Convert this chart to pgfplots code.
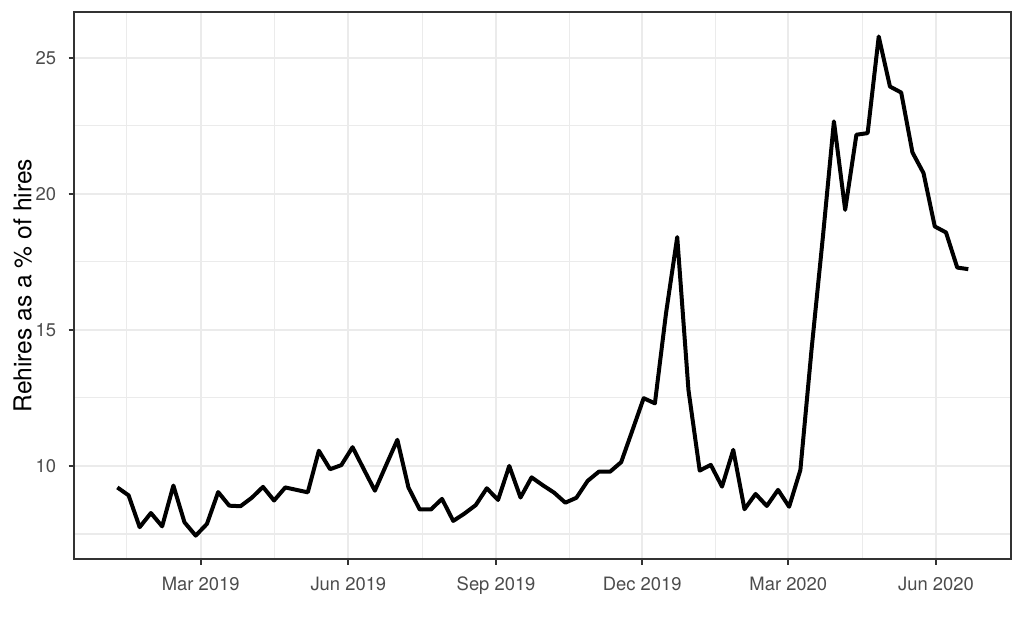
\documentclass[border=0pt]{standalone}
\usepackage{fontspec}
\setmainfont{TeX Gyre Heros}
\usepackage{pgfplots}
\pgfplotsset{compat=1.18}
\definecolor{grey92}{gray}{0.92}
\definecolor{grey20}{gray}{0.2}
\definecolor{grey30}{gray}{0.3}

\begin{document}
\begin{tikzpicture}
\path[use as bounding box] (0,0) rectangle (512pt,315.5pt);
\begin{axis}[
  at={(37pt,35.85pt)}, anchor=south west,
  scale only axis, width=468.35pt, height=273.65pt,
  xmin=-19.9, xmax=563.5, ymin=6.57, ymax=26.68,
  % x is days since 1 Jan 2019
  xtick={59,151,243,334,425,517},
  xticklabels={Mar 2019,Jun 2019,Sep 2019,Dec 2019,Mar 2020,Jun 2020},
  minor xtick={13,105,197,288.5,379.5,471},
  ytick={10,15,20,25},
  minor ytick={7.5,12.5,17.5,22.5},
  grid=both,
  major grid style={grey92, line width=1.07pt},
  minor grid style={grey92, line width=0.53pt},
  tick pos=left,
  tick align=outside, major tick length=2.75pt, minor tick length=0pt,
  tick style={grey20, line width=1.07pt},
  axis line style={grey20, line width=1.07pt},
  ticklabel style={font=\fontsize{9.2}{11}\selectfont, text=grey30, inner sep=0pt},
  /pgf/number format/assume math mode=true,
  xticklabel style={anchor=north, yshift=-6pt},
  yticklabel style={anchor=east, xshift=-6pt},
  ylabel={Rehires as a \% of hires},
  every axis y label/.style={at={([xshift=-25.75pt]axis description cs:0,0.5)},
    rotate=90, anchor=center, font=\fontsize{12.3}{14}\selectfont},
]
\addplot[black, line width=2pt, line join=round, mark=none] coordinates {
(7.1,9.21) (14.1,8.92) (21.0,7.75) (28.0,8.27) (35.0,7.78) (42.0,9.28)
(48.9,7.93) (55.9,7.44) (62.9,7.87) (69.9,9.04) (76.8,8.54) (83.8,8.52)
(90.8,8.83) (97.8,9.23) (104.7,8.73) (111.7,9.21) (118.7,9.12) (125.7,9.03)
(132.6,10.56) (139.6,9.88) (146.6,10.03) (153.6,10.69) (160.5,9.89) (167.5,9.09)
(174.5,10.03) (181.5,10.96) (188.4,9.21) (195.4,8.40) (202.4,8.40) (209.3,8.79)
(216.3,7.98) (223.3,8.25) (230.3,8.56) (237.2,9.18) (244.2,8.75) (251.2,10.00)
(258.2,8.84) (265.1,9.58) (272.1,9.29) (279.1,9.02) (286.1,8.65) (293.0,8.83)
(300.0,9.45) (307.0,9.79) (314.0,9.79) (320.9,10.14) (327.9,11.31) (334.9,12.49)
(341.9,12.30) (348.8,15.6) (355.8,18.41) (362.8,12.79) (369.8,9.83) (376.7,10.04)
(383.7,9.24) (390.7,10.59) (397.7,8.41) (404.6,8.97) (411.6,8.53) (418.6,9.12)
(425.5,8.50) (432.5,9.85) (439.5,14.3) (446.5,18.4) (453.4,22.66) (460.4,19.41)
(467.4,22.17) (474.4,22.23) (481.3,25.78) (488.3,23.94) (495.3,23.72) (502.3,21.52)
(509.2,20.76) (516.2,18.80) (523.2,18.58) (530.2,17.29) (537.1,17.23)
};
\end{axis}
\end{tikzpicture}
\end{document}
